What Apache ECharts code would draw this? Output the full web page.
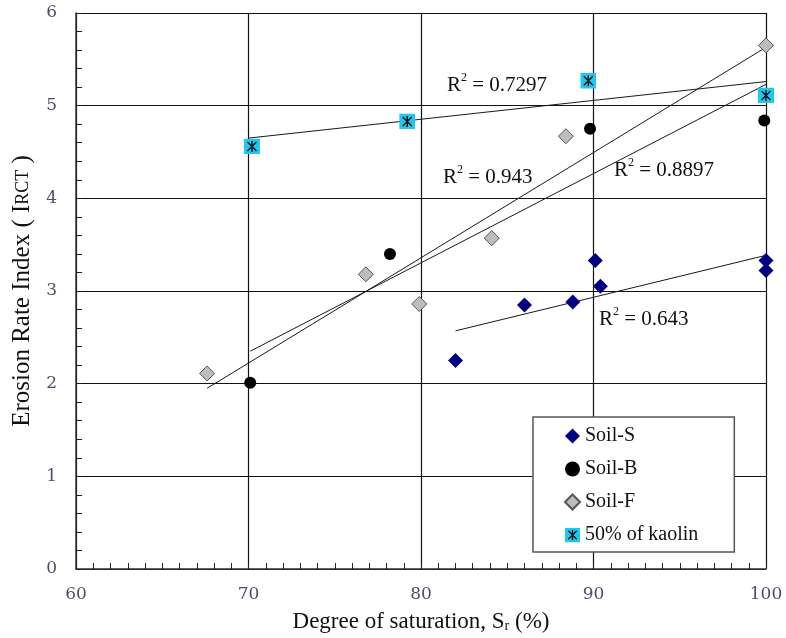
<!DOCTYPE html>
<html>
<head>
<meta charset="utf-8">
<script src="https://cdn.jsdelivr.net/npm/echarts@6/dist/echarts.min.js"></script>
<style>html,body{margin:0;padding:0;background:#fff}#c{width:786px;height:638px}</style>
</head>
<body>
<div id="c"></div>
<script>
// ---- data ----
const soilS_x = [82.0, 86.0, 88.8, 90.1, 90.4, 100, 100];
const soilS_y = [2.25, 2.85, 2.88, 3.33, 3.05, 3.33, 3.22];
const soilB_x = [70.1, 78.2, 89.8, 99.9];
const soilB_y = [2.01, 3.40, 4.75, 4.84];
const soilF_x = [67.6, 76.8, 79.9, 84.1, 88.4, 100];
const soilF_y = [2.11, 3.18, 2.86, 3.57, 4.67, 5.65];
const kaolin_x = [70.2, 79.2, 89.7, 100];
const kaolin_y = [4.56, 4.83, 5.27, 5.11];

// trend lines (start/end)
const trendKaolin_x = [70, 100];   const trendKaolin_y = [4.65, 5.26];
const trendF_x = [67.6, 100];      const trendF_y = [1.95, 5.63];
const trendB_x = [70.1, 100];      const trendB_y = [2.35, 5.23];
const trendS_x = [82, 100];        const trendS_y = [2.57, 3.385];

const r2Labels = ['0.7297', '0.943', '0.8897', '0.643'];
const seriesNames = ['Soil-S', 'Soil-B', 'Soil-F', '50% of kaolin'];
const xTicks = [60, 70, 80, 90, 100];
const yTicks = [0, 1, 2, 3, 4, 5, 6];

const zip = (xs, ys) => xs.map((x, i) => [x, ys[i]]);

const kaolinSvg = "<svg xmlns='http://www.w3.org/2000/svg' width='16' height='16'>" +
  "<rect x='0' y='0' width='16' height='16' fill='#1ec8f0'/>" +
  "<path d='M3.5 3.5L12.5 12.5M12.5 3.5L3.5 12.5M8 2.5V13.5' stroke='#111' stroke-width='1.4'/></svg>";
const kaolinSymbol = 'image://data:image/svg+xml;charset=utf-8,' + encodeURIComponent(kaolinSvg);

const serif = 'Liberation Serif';
const tickFont = 'DejaVu Serif';
const chart = echarts.init(document.getElementById('c'));

function trend(xs, ys) {
  return {
    type: 'line', data: zip(xs, ys), symbol: 'none', silent: true, z: 3,
    lineStyle: { color: '#1a1a1a', width: 1 }
  };
}

function r2Text(left, top, val) {
  return {
    type: 'text', left: left, top: top, z: 100,
    style: {
      text: '{r|R}{s|2}{r| = ' + val + '}',
      rich: {
        r: { fontFamily: serif, fontSize: 21, fill: '#111', lineHeight: 24, verticalAlign: 'bottom' },
        s: { fontFamily: serif, fontSize: 12, fill: '#111', lineHeight: 24, verticalAlign: 'top' }
      }
    }
  };
}

chart.setOption({
  animation: false,
  backgroundColor: '#fff',
  grid: { left: 76, top: 13, width: 690, height: 561, containLabel: false },
  xAxis: {
    type: 'value', min: 60, max: 100, interval: 10,
    name: '{a|Degree of saturation, S}{s|r}{a| (%)}',
    nameLocation: 'middle', nameGap: 38,
    nameTextStyle: {
      rich: {
        a: { fontFamily: serif, fontSize: 23, color: '#111', lineHeight: 26, verticalAlign: 'bottom' },
        s: { fontFamily: serif, fontSize: 14, color: '#111', lineHeight: 26, verticalAlign: 'bottom' }
      }
    },
    axisLine: { show: true, lineStyle: { color: '#333', width: 1.5 } },
    axisTick: { show: true, inside: true, length: 6, lineStyle: { color: '#222' } },
    minorTick: { show: true, splitNumber: 10, length: 6, lineStyle: { color: '#222' } },
    axisLabel: { fontFamily: tickFont, fontSize: 17, color: '#4b5068', margin: 17,
      formatter: v => xTicks.includes(v) ? String(v) : '' },
    splitLine: { show: true, lineStyle: { color: '#111', width: 1.2 } }
  },
  yAxis: {
    type: 'value', min: 0, max: 6, interval: 1,
    name: '{a|Erosion Rate Index ( I}{b|RCT}{a| )}',
    nameLocation: 'middle', nameGap: 39,
    nameTextStyle: {
      rich: {
        a: { fontFamily: serif, fontSize: 25, color: '#111' },
        b: { fontFamily: serif, fontSize: 18, color: '#111' }
      }
    },
    axisLine: { show: true, lineStyle: { color: '#333', width: 1.5 } },
    axisTick: { show: true, inside: true, length: 6, lineStyle: { color: '#222' } },
    minorTick: { show: true, splitNumber: 5, length: 6, lineStyle: { color: '#222' } },
    axisLabel: { fontFamily: tickFont, fontSize: 17, color: '#4b5068', margin: 19,
      formatter: v => yTicks.includes(v) ? String(v) : '' },
    splitLine: { show: true, lineStyle: { color: '#111', width: 1.2 } }
  },
  legend: {
    orient: 'vertical', left: 533, top: 417,
    data: seriesNames,
    backgroundColor: '#fff', borderColor: '#555', borderWidth: 1.5,
    padding: [9, 36, 7, 31],
    itemGap: 13, itemWidth: 15, itemHeight: 15,
    textStyle: { fontFamily: serif, fontSize: 20, color: '#111' }
  },
  series: [
    trend(trendKaolin_x, trendKaolin_y),
    trend(trendF_x, trendF_y),
    trend(trendB_x, trendB_y),
    trend(trendS_x, trendS_y),
    { name: seriesNames[0], type: 'scatter', data: zip(soilS_x, soilS_y), symbol: 'diamond', symbolSize: 15, z: 5,
      itemStyle: { color: '#000080', opacity: 1 } },
    { name: seriesNames[1], type: 'scatter', data: zip(soilB_x, soilB_y), symbol: 'circle', symbolSize: 12, z: 5,
      itemStyle: { color: '#000', opacity: 1 } },
    { name: seriesNames[2], type: 'scatter', data: zip(soilF_x, soilF_y), symbol: 'diamond', symbolSize: 15, z: 5,
      itemStyle: { color: '#bdbdbd', borderColor: '#555', borderWidth: 1, opacity: 1 } },
    { name: seriesNames[3], type: 'scatter', data: zip(kaolin_x, kaolin_y), symbol: kaolinSymbol, symbolSize: 16, z: 6,
      itemStyle: { color: '#1ec8f0', opacity: 1 } }
  ],
  graphic: [
    r2Text(447, 72, r2Labels[0]),
    r2Text(443, 164, r2Labels[1]),
    r2Text(614, 157, r2Labels[2]),
    r2Text(599, 306, r2Labels[3])
  ]
});
</script>
</body>
</html>
